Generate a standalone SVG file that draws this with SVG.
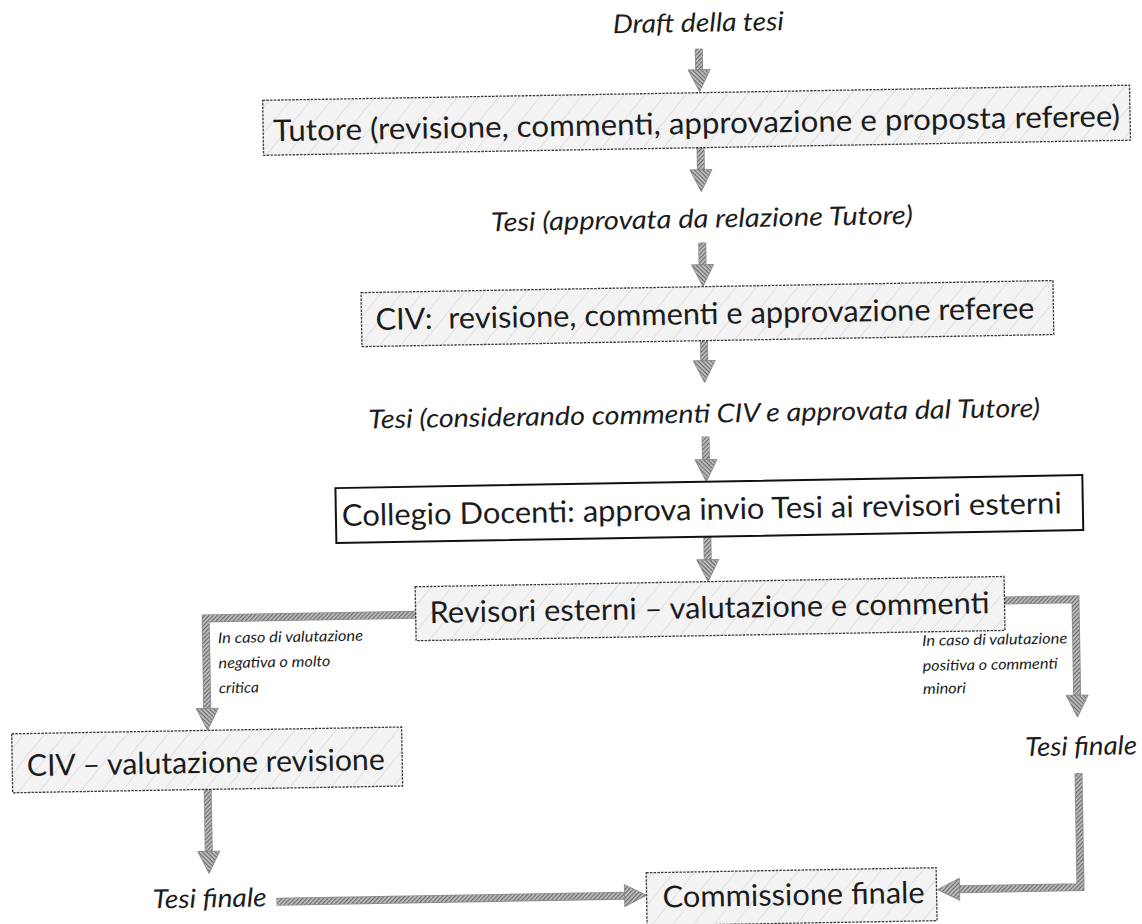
<svg xmlns="http://www.w3.org/2000/svg" width="1142" height="924" viewBox="0 0 1142 924">
<defs>
<pattern id="boxHatch" patternUnits="userSpaceOnUse" width="16" height="16" patternTransform="rotate(40)"><rect width="16" height="16" fill="#f3f3f3"/><rect width="0.8" height="16" fill="#dcdcdc"/></pattern>
<pattern id="arrowHatch" patternUnits="userSpaceOnUse" width="3" height="3" patternTransform="rotate(45)"><rect width="3" height="3" fill="#c6c6c6"/><rect width="1.3" height="3" fill="#6a6a6a"/></pattern>
<marker id="head" markerUnits="userSpaceOnUse" markerWidth="22" markerHeight="22" viewBox="0 0 22 22" refX="0" refY="11" orient="auto" overflow="visible">
<path d="M0,0 L22,11 L0,22 z" fill="url(#arrowHatch)" stroke="#808080" stroke-width="0.8"/>
</marker>
</defs>
<style>
.box{fill:url(#boxHatch);stroke:#3a3a3a;stroke-width:1.3;stroke-dasharray:2.5 1.2}
.plain{fill:#ffffff;stroke:#111111;stroke-width:2}
.t{font-family:Lato,'Open Sans','DejaVu Sans',sans-serif;fill:#1c1c1c}
.big{font-size:30px}
.it{font-style:italic;font-size:26px}
.sm{font-style:italic;font-size:15px}
.co{fill:none;stroke:#8c8c8c;stroke-width:8}
.ci{fill:none;stroke:url(#arrowHatch);stroke-width:6.4;marker-end:url(#head)}
</style>
<rect width="1142" height="924" fill="#ffffff"/>
<g transform="rotate(-1 571 462)">
<g id="connectors">
<path class="co" d="M706,51 V72"/><path class="ci" d="M706,51 V72"/>
<path class="co" d="M706,150 V172"/><path class="ci" d="M706,150 V172"/>
<path class="co" d="M706,245 V267"/><path class="ci" d="M706,245 V267"/>
<path class="co" d="M706,343 V363"/><path class="ci" d="M706,343 V363"/>
<path class="co" d="M706,439 V462"/><path class="ci" d="M706,439 V462"/>
<path class="co" d="M706,539 V562"/><path class="ci" d="M706,539 V562"/>
<path class="co" d="M413,612 H203 V702"/><path class="ci" d="M413,612 H203 V702"/>
<path class="co" d="M1002,608 H1073 V704"/><path class="ci" d="M1002,608 H1073 V704"/>
<path class="co" d="M202,783 V845"/><path class="ci" d="M202,783 V845"/>
<path class="co" d="M269,896.5 H617"/><path class="ci" d="M269,896.5 H617"/>
<path class="co" d="M1073,782 V896 H952"/><path class="ci" d="M1073,782 V896 H952"/>
</g>
<g id="draft"><text class="t it" x="620.5" y="34" textLength="171" lengthAdjust="spacingAndGlyphs">Draft della tesi</text></g>
<g id="tutore"><rect class="box" x="269" y="95" width="867" height="55"/><text class="t big" x="279" y="136" textLength="847" lengthAdjust="spacingAndGlyphs">Tutore (revisione, commenti, approvazione e proposta referee)</text></g>
<g id="tesi-approvata"><text class="t it" x="495" y="230" textLength="422" lengthAdjust="spacingAndGlyphs">Tesi (approvata da relazione Tutore)</text></g>
<g id="civ"><rect class="box" x="364" y="289" width="692" height="54"/><text class="t big" x="378" y="326.5" textLength="659" lengthAdjust="spacingAndGlyphs" xml:space="preserve">CIV:  revisione, commenti e approvazione referee</text></g>
<g id="tesi-considerando"><text class="t it" x="369" y="425" textLength="672" lengthAdjust="spacingAndGlyphs">Tesi (considerando commenti CIV e approvata dal Tutore)</text></g>
<g id="collegio"><rect class="plain" x="335" y="484" width="747" height="55"/><text class="t big" x="341" y="522" textLength="720" lengthAdjust="spacingAndGlyphs">Collegio Docenti: approva invio Tesi ai revisori esterni</text></g>
<g id="revisori"><rect class="box" x="413" y="584" width="589" height="54"/><text class="t big" x="427" y="620.5" textLength="560" lengthAdjust="spacingAndGlyphs">Revisori esterni – valutazione e commenti</text></g>
<g id="label-negativa">
<text class="t sm" x="215" y="637" textLength="145" lengthAdjust="spacingAndGlyphs">In caso di valutazione</text>
<text class="t sm" x="215" y="662" textLength="112" lengthAdjust="spacingAndGlyphs">negativa o molto</text>
<text class="t sm" x="215" y="687" textLength="40" lengthAdjust="spacingAndGlyphs">critica</text>
</g>
<g id="label-positiva">
<text class="t sm" x="919" y="652" textLength="145" lengthAdjust="spacingAndGlyphs">In caso di valutazione</text>
<text class="t sm" x="919" y="677" textLength="135" lengthAdjust="spacingAndGlyphs">positiva o commenti</text>
<text class="t sm" x="919" y="700" textLength="43" lengthAdjust="spacingAndGlyphs">minori</text>
</g>
<g id="civ-valutazione"><rect class="box" x="7" y="724" width="390" height="59"/><text class="t big" x="21.6" y="766.5" textLength="358" lengthAdjust="spacingAndGlyphs">CIV – valutazione revisione</text></g>
<g id="tesi-finale-right"><text class="t it" x="1020" y="764" textLength="112" lengthAdjust="spacingAndGlyphs">Tesi finale</text></g>
<g id="tesi-finale-left"><text class="t it" x="145" y="901" textLength="114" lengthAdjust="spacingAndGlyphs">Tesi finale</text></g>
<g id="commissione"><rect class="box" x="639" y="874" width="290" height="53"/><text class="t big" x="655" y="909" textLength="262" lengthAdjust="spacingAndGlyphs">Commissione finale</text></g>
</g>
</svg>
